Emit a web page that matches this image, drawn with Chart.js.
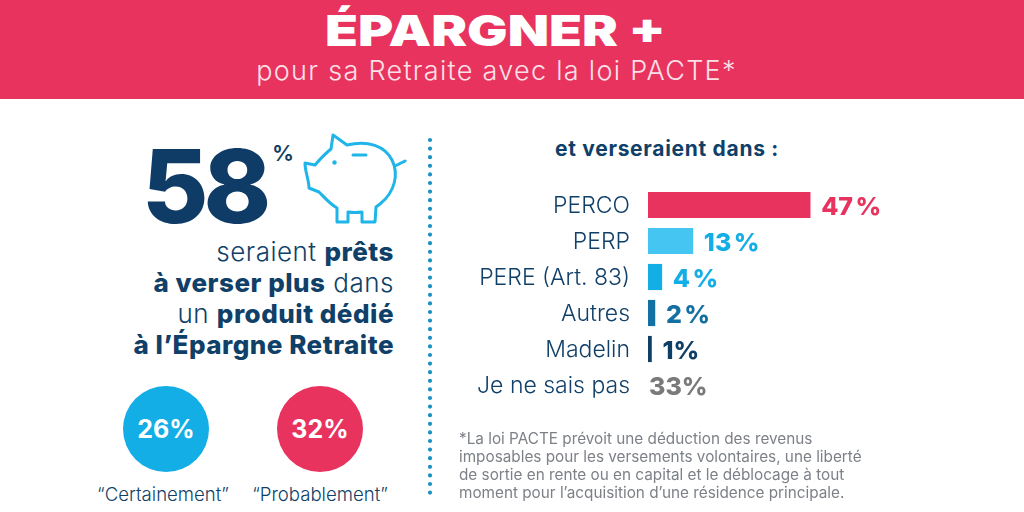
<!DOCTYPE html>
<html lang="fr">
<head>
<meta charset="utf-8">
<title>Épargner +</title>
<script src="https://cdn.jsdelivr.net/npm/chart.js@4"></script>
<style>
  html, body { margin: 0; padding: 0; background: #fff; }
  #page { position: relative; width: 1024px; height: 512px; overflow: hidden; font-family: Inter, sans-serif; color: #103f68; }
  #myChart { position: absolute; left: 0; top: 0; }
  .txt { position: absolute; white-space: nowrap; line-height: 1; }
  .lead { right: 630px; font-size: 26px; font-weight: 300; letter-spacing: 0.5px; }
  .note { left: 459px; font-size: 15.3px; color: #7d8187; }
  #header { position: absolute; left: 0; top: 0; width: 1024px; height: 99px; background: #e8335f; }
  .circle { position: absolute; width: 86px; height: 86px; border-radius: 50%; top: 386px; color: #fff; font-weight: 700; font-size: 25px; line-height: 86px; text-align: center; }
  b { font-weight: 800; }
</style>
</head>
<body>
<div id="page">
  <div id="header"></div>
  <div class="txt" style="left:0;width:991px;text-align:center;top:10px;color:#fff;font-weight:900;font-size:42px;transform:scaleX(1.28);">ÉPARGNER +</div>
  <div class="txt" style="left:0;width:993px;text-align:center;top:57px;color:#fbe0e7;font-weight:300;font-size:27px;letter-spacing:1.3px;">pour sa Retraite avec la loi PACTE*</div>

  <div class="txt" style="left:142px;top:135px;font-weight:800;font-size:102px;letter-spacing:-5px;color:#0f3c66;">58</div>
  <svg style="position:absolute;left:0;top:0" width="1024" height="512">
    <g fill="none" stroke="#1fb5e8" stroke-width="3" stroke-linecap="round" stroke-linejoin="round">
      <path d="M305 163 L315 165 C321 158 326 153 331 149 L333 135 L347 145 C368 140 385 146 392 160 C399 174 395 192 380 204 L376 207 L375 222 L362 222 L362 212 Q355 213 348 212 L348 222 L337 222 L337 208 C330 204 325 198 319 192 L309 188 C309 180 305 172 305 163 Z"/>
      <path d="M395 166 L405 161"/>
      <path d="M353 155 L366 155"/>
    </g>
    <circle cx="334.5" cy="162.5" r="2.2" fill="#1fb5e8"/>
    <line x1="430" y1="140" x2="430" y2="496" stroke="#1a93c4" stroke-width="4.2" stroke-linecap="round" stroke-dasharray="0 8.6"/>
  </svg>
  <div class="txt" style="left:272px;top:142px;font-weight:600;font-size:22px;color:#0f3c66;">%</div>

  <div class="txt lead" style="top:239px;">seraient <b>prêts</b></div>
  <div class="txt lead" style="top:270px;"><b>à verser plus</b> dans</div>
  <div class="txt lead" style="top:301px;">un <b>produit dédié</b></div>
  <div class="txt lead" style="top:332px;"><b>à l’Épargne Retraite</b></div>

  <div class="circle" style="left:123px;background:#14aee6;">26%</div>
  <div class="circle" style="left:277px;background:#e8335f;">32%</div>
  <div class="txt" style="left:63px;width:200px;text-align:center;top:485px;font-size:18.6px;font-weight:300;">“Certainement”</div>
  <div class="txt" style="left:220px;width:200px;text-align:center;top:485px;font-size:18.6px;font-weight:300;">“Probablement”</div>

  <div class="txt" style="left:555px;top:138px;font-size:21px;font-weight:700;letter-spacing:0.7px;">et verseraient dans :</div>

  <canvas id="myChart" width="1024" height="512"></canvas>

  <div class="txt note" style="top:431px;">*La loi PACTE prévoit une déduction des revenus</div>
  <div class="txt note" style="top:449px;">imposables pour les versements volontaires, une liberté</div>
  <div class="txt note" style="top:467px;">de sortie en rente ou en capital et le déblocage à tout</div>
  <div class="txt note" style="top:485px;">moment pour l’acquisition d’une résidence principale.</div>
</div>

<script>
const categories = ['PERCO', 'PERP', 'PERE (Art. 83)', 'Autres', 'Madelin', 'Je ne sais pas'];
const percentages = [47, 13, 4, 2, 1, 33];
const percentLabels = ['47 %', '13 %', '4 %', '2 %', '1%', '33%'];
const barColors = ['#e8335f', '#45c6f2', '#14aee6', '#1470a3', '#103f66', 'rgba(0,0,0,0)'];
const labelColors = ['#e8335f', '#14aee6', '#14aee6', '#1470a3', '#103f66', '#7a7a7a'];
const noBarCategory = 'Je ne sais pas';

// pas de barre pour "Je ne sais pas", seulement le pourcentage
const barValues = percentages.map((v, i) => categories[i] === noBarCategory ? null : v);

const valueLabels = {
    id: 'valueLabels',
    afterDatasetsDraw(chart) {
        const { ctx, scales } = chart;
        ctx.save();
        ctx.font = '800 25px Inter, sans-serif';
        ctx.wordSpacing = '-3px';
        ctx.textAlign = 'left';
        ctx.textBaseline = 'middle';
        categories.forEach((cat, i) => {
            const end = scales.x.getPixelForValue(barValues[i] === null ? 0 : barValues[i]);
            const gap = barValues[i] === null ? 1 : 11;
            ctx.fillStyle = labelColors[i];
            ctx.fillText(percentLabels[i], end + gap, scales.y.getPixelForValue(i) + 2);
        });
        ctx.restore();
    }
};

new Chart(document.getElementById('myChart'), {
    type: 'bar',
    data: {
        labels: categories,
        datasets: [{ data: barValues, backgroundColor: barColors, barThickness: 25.5 }]
    },
    options: {
        indexAxis: 'y',
        responsive: false,
        animation: false,
        layout: { padding: { top: 187, bottom: 109, right: 31, left: 0 } },
        plugins: { legend: { display: false }, tooltip: { enabled: false } },
        scales: {
            x: { display: false, min: 0, max: 100 },
            y: {
                grid: { display: false },
                border: { display: false },
                afterFit(scale) { scale.width = 648; },
                ticks: {
                    color: '#103f68',
                    padding: 10,
                    labelOffset: 1,
                    font: { family: 'Inter, sans-serif', size: 23, weight: '300' }
                }
            }
        }
    },
    plugins: [valueLabels]
});
</script>
</body>
</html>
